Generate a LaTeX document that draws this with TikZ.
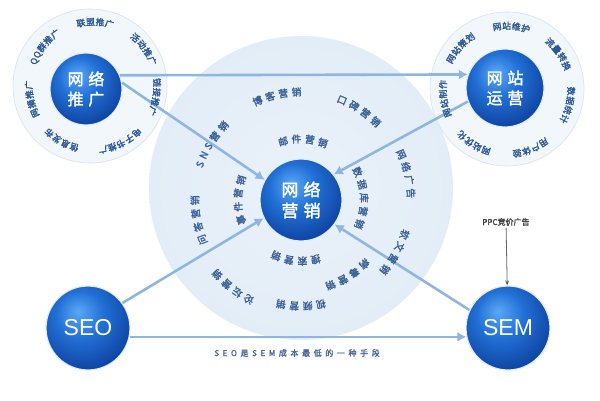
\documentclass[tikz,border=0pt]{standalone}
\usepackage{fontspec}
\setmainfont{Noto Sans CJK SC}[AutoFakeBold=2]
\newfontfamily\latinsans{Liberation Sans}
\newfontfamily\spacedcjk{Noto Sans CJK SC}[LetterSpace=45,AutoFakeBold=2]
\usetikzlibrary{decorations.text,arrows.meta,calc}
\definecolor{sph1}{HTML}{5AA8F5}
\definecolor{sph2}{HTML}{2270D6}
\definecolor{sph3}{HTML}{0E419E}
\definecolor{sph4}{HTML}{061A4F}
\definecolor{ringtxt}{HTML}{2B5797}
\definecolor{ctxt}{HTML}{3A6096}
\definecolor{arrowblue}{HTML}{8FB6E0}
\definecolor{ringfill}{HTML}{F2F7FC}
\definecolor{ringedge}{HTML}{D5E3F1}
\definecolor{discin}{HTML}{EAF2FA}
\definecolor{discout}{HTML}{D2E1F0}
\definecolor{lblblue}{HTML}{4A6A98}
\pgfdeclareradialshading{sphere}{\pgfpoint{-6bp}{10bp}}{color(0bp)=(sph1); color(14bp)=(sph2); color(32bp)=(sph3); color(44bp)=(sph4); color(70bp)=(sph4)}
\pgfdeclareradialshading{bigdisc}{\pgfpoint{0bp}{0bp}}{color(0bp)=(discin); color(35bp)=(discin!60!discout); color(50bp)=(discout)}
\newcommand\gapk{\kern3.6pt}
\newcommand\gaps{\kern0.8pt}
\tikzset{
  ballnode/.style={circle, shade, shading=sphere, draw=white!80!sph1, line width=1.2pt,
    minimum size=#1, inner sep=0pt, text=white, align=center,
    font=\bfseries\fontsize{16}{20}\selectfont},
  ringbg/.style={circle, fill=ringfill, draw=ringedge, line width=0.6pt, minimum size=#1, inner sep=0pt},
  arr/.style={draw=arrowblue, line width=2.6pt, -{Latex[length=9pt,width=10pt]}},
  ppcarr/.style={draw=black!60, line width=0.8pt, -{Stealth[length=5pt,width=4pt]}},
}
\newcommand\smalltext[3]{%
  \path[decorate,decoration={text along path,text align=center,raise=-3.2pt,
    text={|\color{ringtxt}\bfseries\fontsize{8.8}{9}\selectfont|#3}}]
    ($(#1)+(#2+42:64)$) arc[start angle=#2+42,end angle=#2-42,radius=64];}
\newcommand\bigtext[4]{%
  \pgfmathsetmacro\hspan{3300/#3}%
  \path[decorate,decoration={text along path,text align=center,raise=-3.6pt,
    text={|\color{ctxt}\bfseries\fontsize{9.8}{10}\selectfont|#4}}]
    ($(#1)+(#2+\hspan:#3)$) arc[start angle=#2+\hspan,end angle=#2-\hspan,radius=#3];}
\begin{document}
\begin{tikzpicture}[x=1pt,y=1pt]
\useasboundingbox (0,0) rectangle (600,400);
\fill[white] (0,0) rectangle (600,400);
% big background disc
\shade[shading=bigdisc] (301,212) circle[radius=152];
% rings
\node[ringbg=154pt] (tlring) at (90,314) {};
\node[ringbg=154pt] (trring) at (507,311) {};
% centers for ring text
\coordinate (tlc) at (93,314);
\coordinate (trc) at (507,310);
\coordinate (cc) at (301,200);
% balls
\node[ballnode=72pt] (wlt) at (86,311) {网\hspace{.3em}络\\推\hspace{.3em}广};
\node[ballnode=78pt] (wyy) at (505,312) {网\hspace{.3em}站\\运\hspace{.3em}营};
\node[ballnode=82pt, font=\bfseries\fontsize{17}{21}\selectfont] (wlyx) at (301,200) {网\hspace{.3em}络\\营\hspace{.3em}销};
\node[ballnode=84pt, font=\latinsans\fontsize{23}{25}\selectfont] (seo) at (88,72) {SEO};
\node[ballnode=84pt, font=\latinsans\fontsize{23}{25}\selectfont] (sem) at (508,72) {SEM};
% PPC
\node[font=\bfseries\fontsize{8}{10}\selectfont, text=black!75, inner sep=2pt] (ppc) at (506,178) {PPC竞价广告};
% bottom label
\node[font=\spacedcjk\bfseries\fontsize{8}{10}\selectfont, text=lblblue] (lbl) at (297,47) {SEO是SEM成本最低的一种手段};
% connectors
\draw[arr] (wlt.22) -- (wyy.160);
\draw[arr] (wlt.10) -- (wlyx.151);
\draw[arr] (wyy.200) -- (wlyx.38);
\draw[arr] (seo.36) -- (wlyx.206);
\draw[arr] (sem.155) -- (wlyx.-36);
\draw[arr] (seo.-12) -- (sem.192);
\draw[ppcarr] (ppc) -- (sem);
% ring texts top-left
\smalltext{tlc}{141}{{Q\gaps}{Q\gaps}{群\gaps}{推\gaps}广}
\smalltext{tlc}{88}{{联\gaps}{盟\gaps}{推\gaps}广}
\smalltext{tlc}{36}{{活\gaps}{动\gaps}{推\gaps}广}
\smalltext{tlc}{-10}{{链\gaps}{接\gaps}{推\gaps}广}
\smalltext{tlc}{-64}{{电\gaps}{子\gaps}{书\gaps}{推\gaps}广}
\smalltext{tlc}{-120}{{信\gaps}{息\gaps}{发\gaps}布}
\smalltext{tlc}{-168}{{网\gaps}{摘\gaps}{推\gaps}广}
% ring texts top-right
\smalltext{trc}{138}{{网\gaps}{站\gaps}{策\gaps}划}
\smalltext{trc}{86}{{网\gaps}{站\gaps}{维\gaps}护}
\smalltext{trc}{35}{{流\gaps}{量\gaps}{转\gaps}换}
\smalltext{trc}{-14}{{数\gaps}{据\gaps}{统\gaps}计}
\smalltext{trc}{-68}{{用\gaps}{户\gaps}{体\gaps}验}
\smalltext{trc}{-122}{{网\gaps}{站\gaps}{优\gaps}化}
\smalltext{trc}{-172}{{网\gaps}{站\gaps}{制\gaps}作}
% center outer ring
\bigtext{cc}{103}{108}{{博\gapk}{客\gapk}{营\gapk}销}
\bigtext{cc}{57}{108}{{口\gapk}{碑\gapk}{营\gapk}销}
\bigtext{cc}{148}{107}{{S\gapk}{N\gapk}{S\gapk}{营\gapk}销}
\bigtext{cc}{14}{110}{{网\gapk}{络\gapk}{广\gapk}告}
\bigtext{cc}{191}{106}{{问\gapk}{答\gapk}{营\gapk}销}
\bigtext{cc}{232}{112}{{论\gapk}{坛\gapk}{营\gapk}销}
\bigtext{cc}{270}{106}{{视\gapk}{频\gapk}{营\gapk}销}
\bigtext{cc}{-29}{109}{{软\gapk}{文\gapk}{营\gapk}销}
\bigtext{cc}{-58}{90}{{病\gapk}{毒\gapk}{营\gapk}销}
% center inner ring
\bigtext{cc}{88}{61}{{邮\gapk}{件\gapk}{营\gapk}销}
\bigtext{cc}{2}{63}{{数\gapk}{据\gapk}{库\gapk}{营\gapk}销}
\bigtext{cc}{180}{63}{{事\gapk}{件\gapk}{营\gapk}销}
\bigtext{cc}{265}{61}{{搜\gapk}{索\gapk}{营\gapk}销}
\end{tikzpicture}
\end{document}
